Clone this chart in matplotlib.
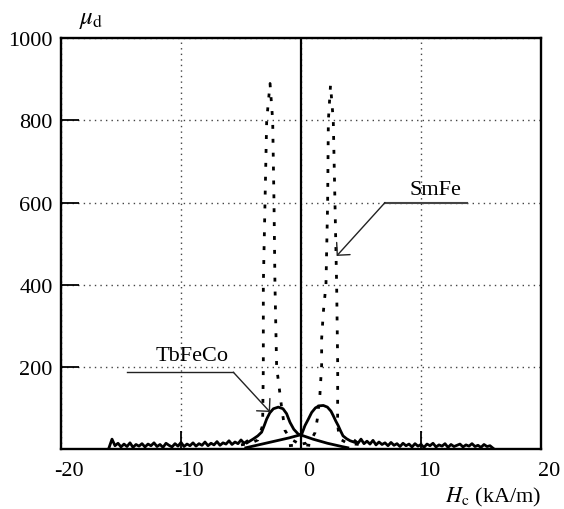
import numpy as np
import matplotlib
matplotlib.use('Agg')
import matplotlib.pyplot as plt
from matplotlib.transforms import ScaledTranslation

plt.rcParams['font.family'] = ['Liberation Serif', 'DejaVu Serif']
plt.rcParams['mathtext.fontset'] = 'stix'

# ---------------- data ----------------
x_ticks = [-20, -10, 0, 10, 20]
y_ticks = [200, 400, 600, 800, 1000]
x_tick_labels = ['-20', '-10', '0', '10', '20']
y_tick_labels = ['200', '400', '600', '800', '1000']

# noisy floor of the measurement (kA/m, mu_d)
floor_left_x = np.arange(-16.0, -4.49, 0.25)
floor_left_y = [3, 24, 8, 14, 5, 12, 6, 15, 4, 11, 7, 13, 5, 12, 8, 15, 6, 11, 4, 14,
                9, 5, 13, 7, 16, 6, 12, 8, 15, 7, 13, 9, 17, 8, 14, 10, 18, 9, 15, 12,
                20, 11, 17, 13, 22, 14, 19]
floor_right_x = np.arange(4.5, 16.01, 0.25)
floor_right_y = [20, 14, 24, 13, 19, 12, 21, 10, 17, 11, 15, 8, 16, 9, 13, 6, 14, 8, 12, 5,
                 13, 7, 11, 4, 12, 8, 14, 5, 10, 7, 13, 4, 11, 6, 9, 12, 5, 10, 7, 13,
                 6, 9, 4, 11, 6, 8, 2]

# TbFeCo, branch with the negative-field peak
tb_a_x = [-4.5, -4.0, -3.6, -3.28, -3.05, -2.86, -2.6, -2.3, -1.89, -1.5, -1.2, -0.92,
          -0.6, -0.22, 0.0, 0.5, 1.0, 1.6, 2.2, 2.8, 3.4, 3.9]
tb_a_y = [15, 24, 32, 41, 58, 73, 88, 98, 102, 98, 86, 65,
          48, 36, 34, 29, 24, 19, 14, 10, 6, 3]
# TbFeCo, branch with the positive-field peak
tb_b_x = [-4.6, -4.0, -3.4, -2.8, -2.2, -1.6, -1.0, -0.5, -0.1, 0.06, 0.33, 0.6, 0.89,
          1.2, 1.5, 1.86, 2.2, 2.5, 2.69, 2.9, 3.1, 3.3, 3.5, 3.8, 4.1, 4.5]
tb_b_y = [3, 7, 11, 15, 19, 23, 27, 31, 34, 36, 57, 72, 89,
          100, 105, 106, 102, 92, 81, 68, 57, 44, 32, 25, 20, 16]

# SmFe, branch with the negative-field peak
sm_a_x = [-5.0, -4.2, -3.6, -3.2, -3.14, -3.14, -3.0, -2.86, -2.58, -2.36, -2.25,
          -2.17, -2.03, -1.61, -1.33, -0.9, -0.3, 0.4, 1.0]
sm_a_y = [10, 14, 22, 57, 200, 400, 600, 800, 890, 800, 600,
          400, 200, 100, 45, 25, 15, 10, 8]
# SmFe, branch with the positive-field peak
sm_b_x = [-1.0, -0.3, 0.4, 0.9, 1.17, 1.36, 1.58, 1.72, 1.72, 1.86, 2.08, 2.22, 2.28,
          2.46, 2.69, 2.83, 2.97, 3.06, 3.05, 3.2, 3.8, 4.5, 5.2]
sm_b_y = [8, 10, 14, 25, 40, 73, 134, 205, 268, 333, 400, 600, 800,
          886, 800, 600, 400, 200, 60, 25, 15, 12, 10]

# ---------------- figure ----------------
fig = plt.figure(figsize=(5.64, 5.10), dpi=100)
ax = fig.add_axes([61 / 564, 60 / 510, 480 / 564, 410.7 / 510])
ax.set_xlim(-20, 20)
ax.set_ylim(0, 1000)

ax.set_xticks(x_ticks)
ax.set_xticklabels(x_tick_labels)
ax.set_yticks(y_ticks)
ax.set_yticklabels(y_tick_labels)
ax.tick_params(direction='in', length=13, width=1.3, labelsize=16)
ax.tick_params(axis='x', pad=9)
ax.tick_params(axis='y', pad=6)
for lab in ax.get_xticklabels():
    lab.set_transform(lab.get_transform() + ScaledTranslation(8 / 100, 0, fig.dpi_scale_trans))

ax.grid(True, color='#444444', linestyle=(0, (1, 3)), linewidth=1.0)
ax.set_axisbelow(True)
for sp in ax.spines.values():
    sp.set_linewidth(1.7)

ax.axvline(0, color='black', lw=1.6, zorder=5)

ax.plot(floor_left_x, floor_left_y, color='black', lw=2.0, zorder=3)
ax.plot(floor_right_x, floor_right_y, color='black', lw=2.0, zorder=3)
ax.plot(tb_a_x, tb_a_y, color='black', lw=2.0, zorder=4)
ax.plot(tb_b_x, tb_b_y, color='black', lw=2.0, zorder=4)
ax.plot(sm_a_x, sm_a_y, color='black', lw=2.0, linestyle=(0, (1.4, 3.6)), zorder=4)
ax.plot(sm_b_x, sm_b_y, color='black', lw=2.0, linestyle=(0, (1.4, 3.6)), zorder=4)

# annotations
ax.plot([-14.5, -5.64], [187, 187], color='#222222', lw=1.0, zorder=6)
ax.annotate('', xy=(-2.58, 90), xytext=(-5.64, 187),
            arrowprops=dict(arrowstyle='->,head_length=0.65,head_width=0.65',
                            color='#222222', lw=1.0, shrinkA=0, shrinkB=0,
                            mutation_scale=10), zorder=6)
ax.text(-9.11, 227, 'TbFeCo', ha='center', va='center', fontsize=16, zorder=6)

ax.plot([7.0, 13.8], [600, 600], color='#444444', lw=1.5, zorder=6)
ax.annotate('', xy=(2.97, 470), xytext=(7.0, 600),
            arrowprops=dict(arrowstyle='->,head_length=0.65,head_width=0.65',
                            color='#222222', lw=1.0, shrinkA=0, shrinkB=0,
                            mutation_scale=10), zorder=6)
ax.text(11.17, 633, 'SmFe', ha='center', va='center', fontsize=16, zorder=6)

# axis titles
ax.text(0.0625, 1.047, r'$\mu_{\mathrm{d}}$', transform=ax.transAxes,
        ha='center', va='center', fontsize=18)
ax.text(1.0, -0.115, r'$H_{\mathrm{c}}$ (kA/m)', transform=ax.transAxes,
        ha='right', va='center', fontsize=16)

fig.savefig('out.png', dpi=100)
